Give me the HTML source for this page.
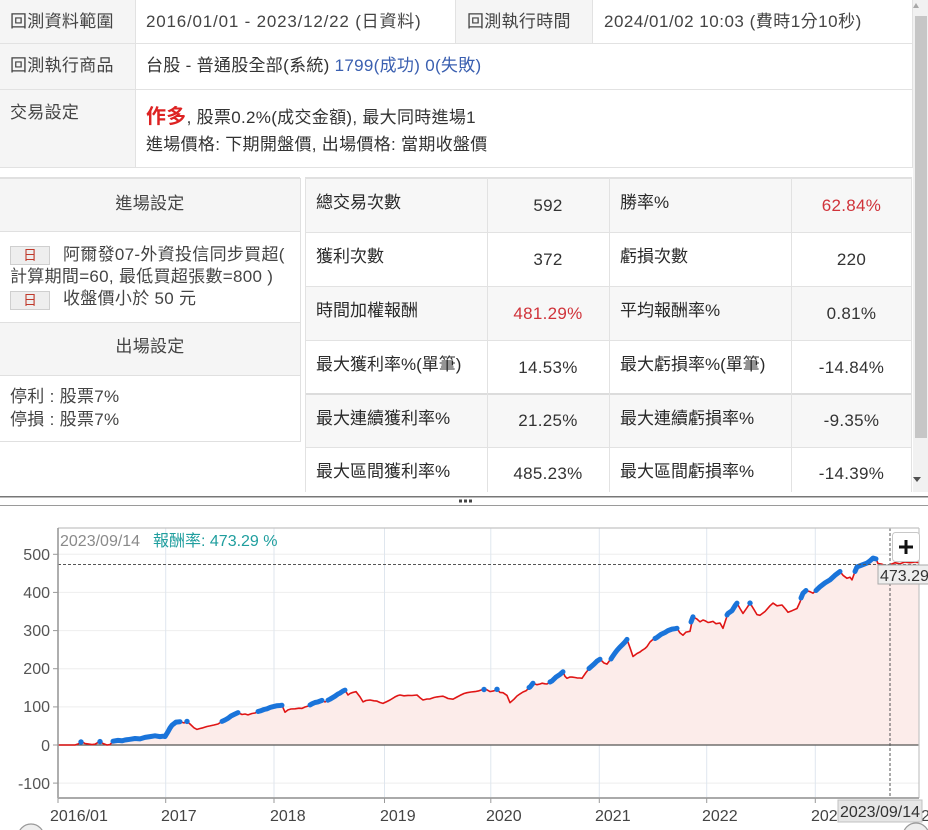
<!DOCTYPE html>
<html><head><meta charset="utf-8">
<style>
*{margin:0;padding:0;box-sizing:border-box}
body{width:928px;height:830px;overflow:hidden;background:#fff;position:relative;font-family:"Liberation Sans","Noto Sans CJK TC",sans-serif;color:#333}
.a{position:absolute;white-space:nowrap;font-size:17px;letter-spacing:0.3px}
.c{position:absolute}
.h{position:absolute;height:1px;background:#e2e2e2}
.v{position:absolute;width:1px;background:#e2e2e2}
.lab{color:#444}
.blue{color:#3a5fb0}
.box{position:absolute;width:40px;height:19px;background:#eeeeee;border:1px solid #cfcfcf;color:#c0392b;font-size:14px;line-height:17px;text-align:center}
.rl{position:absolute;left:316px;white-space:nowrap;font-size:17px;color:#2a2a2a;line-height:20px}
.rv{position:absolute;white-space:nowrap;font-size:17px;color:#333;text-align:center;line-height:20px;letter-spacing:0.3px}
.rv.red,.red{color:#d0333a}
</style></head><body>

<!-- TOP TABLE -->
<div class="c" style="left:0;top:0;width:135px;height:167px;background:#f5f5f5"></div>
<div class="c" style="left:455px;top:0;width:137px;height:43px;background:#f5f5f5"></div>
<div class="h" style="left:0;top:43px;width:913px"></div>
<div class="h" style="left:0;top:89px;width:913px"></div>
<div class="h" style="left:0;top:167px;width:913px"></div>
<div class="v" style="left:135px;top:0;height:167px"></div>
<div class="v" style="left:455px;top:0;height:43px"></div>
<div class="v" style="left:592px;top:0;height:43px"></div>
<div class="v" style="left:912px;top:0;height:167px"></div>

<div class="a lab" style="left:10px;top:0;line-height:43px">回測資料範圍</div>
<div class="a" style="left:146px;top:0;line-height:43px;color:#444;letter-spacing:0.8px">2016/01/01 - 2023/12/22 (日資料)</div>
<div class="a lab" style="left:467px;top:0;line-height:43px">回測執行時間</div>
<div class="a" style="left:604px;top:0;line-height:43px;color:#444;letter-spacing:0.5px">2024/01/02 10:03 (費時1分10秒)</div>

<div class="a lab" style="left:10px;top:43px;line-height:46px">回測執行商品</div>
<div class="a" style="left:146px;top:43px;line-height:46px;color:#333">台股 - 普通股全部(系統) <span class="blue">1799(成功) 0(失敗)</span></div>

<div class="a lab" style="left:10px;top:101px;line-height:24px">交易設定</div>
<div class="a" style="left:146px;top:104px;line-height:26px;color:#333"><span style="color:#dd2222;font-weight:bold;font-size:20px">作多</span>, 股票0.2%(成交金額), 最大同時進場1</div>
<div class="a" style="left:146px;top:133px;line-height:24px;color:#333">進場價格: 下期開盤價, 出場價格: 當期收盤價</div>

<!-- LEFT PANEL -->
<div class="c" style="left:0;top:178px;width:300px;height:53px;background:#f5f5f5"></div>
<div class="c" style="left:0;top:322px;width:300px;height:53px;background:#f5f5f5"></div>
<div class="c" style="left:0;top:177px;width:300px;height:2px;background:#e0e0e0"></div>
<div class="h" style="left:0;top:231px;width:300px;background:#e0e0e0"></div>
<div class="h" style="left:0;top:322px;width:300px;background:#e0e0e0"></div>
<div class="h" style="left:0;top:375px;width:300px;background:#e0e0e0"></div>
<div class="h" style="left:0;top:441px;width:300px;background:#e0e0e0"></div>
<div class="v" style="left:300px;top:178px;height:264px;background:#e0e0e0"></div>

<div class="a" style="left:0;width:300px;text-align:center;top:178px;line-height:52px;color:#444">進場設定</div>
<div class="box" style="left:10px;top:246px">日</div>
<div class="a" style="left:63px;top:244px;line-height:22px;color:#444">阿爾發07-外資投信同步買超(</div>
<div class="a" style="left:10px;top:266px;line-height:22px;color:#444">計算期間=60, 最低買超張數=800 )</div>
<div class="box" style="left:10px;top:291px">日</div>
<div class="a" style="left:63px;top:288px;line-height:22px;color:#444">收盤價小於 50 元</div>
<div class="a" style="left:0;width:300px;text-align:center;top:322px;line-height:50px;color:#444">出場設定</div>
<div class="a" style="left:10px;top:386px;line-height:22px;color:#444">停利 : 股票7%</div>
<div class="a" style="left:10px;top:409px;line-height:22px;color:#444">停損 : 股票7%</div>

<!-- RIGHT TABLE -->
<div class="c" style="left:305px;top:178px;width:607px;height:54px;background:#f7f7f7"></div>
<div class="c" style="left:305px;top:286px;width:607px;height:54px;background:#f7f7f7"></div>
<div class="c" style="left:305px;top:394px;width:607px;height:53px;background:#f7f7f7"></div>
<div class="c" style="left:305px;top:177px;width:607px;height:2px;background:#e0e0e0"></div>
<div class="h" style="left:305px;top:232px;width:607px"></div>
<div class="h" style="left:305px;top:286px;width:607px"></div>
<div class="h" style="left:305px;top:340px;width:607px"></div>
<div class="c" style="left:305px;top:393px;width:607px;height:2px;background:#dcdcdc"></div>
<div class="h" style="left:305px;top:447px;width:607px"></div>
<div class="v" style="left:305px;top:178px;height:314px"></div>
<div class="v" style="left:487px;top:178px;height:314px"></div>
<div class="v" style="left:609px;top:178px;height:314px"></div>
<div class="v" style="left:791px;top:178px;height:314px"></div>
<div class="v" style="left:911px;top:178px;height:314px"></div>

<div class="rl" style="top:193px">總交易次數</div>
<div class="rv" style="left:487px;width:122px;top:196px">592</div>
<div class="rl" style="left:620px;top:193px">勝率%</div>
<div class="rv red" style="left:791px;width:121px;top:196px">62.84%</div>

<div class="rl" style="top:247px">獲利次數</div>
<div class="rv" style="left:487px;width:122px;top:250px">372</div>
<div class="rl" style="left:620px;top:247px">虧損次數</div>
<div class="rv" style="left:791px;width:121px;top:250px">220</div>

<div class="rl" style="top:301px">時間加權報酬</div>
<div class="rv red" style="left:487px;width:122px;top:304px">481.29%</div>
<div class="rl" style="left:620px;top:301px">平均報酬率%</div>
<div class="rv" style="left:791px;width:121px;top:304px">0.81%</div>

<div class="rl" style="top:355px">最大獲利率%(單筆)</div>
<div class="rv" style="left:487px;width:122px;top:358px">14.53%</div>
<div class="rl" style="left:620px;top:355px">最大虧損率%(單筆)</div>
<div class="rv" style="left:791px;width:121px;top:358px">-14.84%</div>

<div class="rl" style="top:409px">最大連續獲利率%</div>
<div class="rv" style="left:487px;width:122px;top:411px">21.25%</div>
<div class="rl" style="left:620px;top:409px">最大連續虧損率%</div>
<div class="rv" style="left:791px;width:121px;top:411px">-9.35%</div>

<div class="rl" style="top:462px">最大區間獲利率%</div>
<div class="rv" style="left:487px;width:122px;top:464px">485.23%</div>
<div class="rl" style="left:620px;top:462px">最大區間虧損率%</div>
<div class="rv" style="left:791px;width:121px;top:464px">-14.39%</div>

<!-- SCROLLBAR -->
<div class="c" style="left:913px;top:0;width:15px;height:492px;background:#f1f1f1"></div>
<div class="c" style="left:915px;top:16px;width:12px;height:422px;background:#c6c6c6"></div>

<!-- SPLITTER + CHART -->
<svg class="c" style="left:0;top:0" width="928" height="830" viewBox="0 0 928 830" xmlns="http://www.w3.org/2000/svg">
  <polygon points="916,3 919,8 913,8" fill="#a8a8a8"/>
  <polygon points="917,482 921,477 913,477" fill="#505050"/>
  <rect x="0" y="496" width="928" height="1.5" fill="#777"/>
  <rect x="0" y="505" width="928" height="1" fill="#9a9a9a"/>
  <rect x="459" y="499.5" width="3" height="3" fill="#444"/>
  <rect x="464" y="499.5" width="3" height="3" fill="#444"/>
  <rect x="469" y="499.5" width="3" height="3" fill="#444"/>

  <!-- horizontal grid -->
  <g stroke="#eeeeee" stroke-width="1">
    <line x1="58" y1="554.3" x2="919" y2="554.3"/>
    <line x1="58" y1="592.4" x2="919" y2="592.4"/>
    <line x1="58" y1="630.6" x2="919" y2="630.6"/>
    <line x1="58" y1="668.7" x2="919" y2="668.7"/>
    <line x1="58" y1="706.9" x2="919" y2="706.9"/>
    <line x1="58" y1="783.1" x2="919" y2="783.1"/>
  </g>
  <!-- vertical grid -->
  <g stroke="#dfe6ee" stroke-width="1">
    <line x1="165.7" y1="528" x2="165.7" y2="798"/>
    <line x1="274" y1="528" x2="274" y2="798"/>
    <line x1="384.5" y1="528" x2="384.5" y2="798"/>
    <line x1="490.8" y1="528" x2="490.8" y2="798"/>
    <line x1="599.3" y1="528" x2="599.3" y2="798"/>
    <line x1="706.7" y1="528" x2="706.7" y2="798"/>
    <line x1="815.3" y1="528" x2="815.3" y2="798"/>
  </g>

  <!-- fill -->
  <polygon fill="#fcecea" points="58,745 75,745 78,744 80,742.7 82,741.9 85,743.5 88,743.9 92,744.6 95,744.2 98,742.5 100,741.6 103,743.5 107,745 110,744.6 113,741.2 118,740.4 122,740.8 125,740.0 130,739.3 135,738.5 140,738.9 145,737.4 150,736.6 155,735.8 160,736.6 163,736.2 165,736.6 168,731.7 170,728 172,725.2 176,722.1 180,721.7 184,722.9 187,721.4 190,724.0 194,727.8 197,729.4 200,728.5 203,727.8 207,726.5 210,725.9 214,725 218,724.0 222,721.4 225,720 228,718.3 231,716 234,714.5 238,712.6 242,714.5 245,714 248,714.9 252,713.5 255,713.0 258,711.5 261,710.7 264,709.5 267,708.8 270,707.5 272,706.9 275,706.2 277,705.7 280,705.5 282,705.3 285,712.2 288,709.9 291,709 295,708.8 299,708.2 302,708.4 305,707 308,706.1 312,703.8 315,702.5 318,701.9 322,700.4 325,701.9 328,700.2 330,699.2 335,696.2 338,694 340,693.1 343,691 345,690.1 348,695.0 350,693.5 352,692.7 356,691.6 360,696.9 363,701.9 366,700.5 370,700.0 374,700.8 377,701.1 380,702.5 383,703.4 387,701.5 390,700.0 395,696.9 398,695.5 400,695.0 404,695.8 408,695.4 412,695.5 417,695.0 420,697.7 423,700.0 427,699 430,698.9 434,697.5 437,696.9 440,696.5 443,696.2 446,697.5 448,698.5 453,699.2 457,697 460,695.4 464,693.5 467,692.7 471,692 475,691.6 479,690.8 482,689.7 486,689.3 490,691.6 494,690.8 497,689.3 500,692.4 503,692.7 507,695.4 510,702.7 514,699.2 517,696 520,693.9 523,692 526,690.8 530,687.0 533,683.2 537,684.7 540,684 542,683.2 545,683.8 547,684.0 550,682 552,680.9 556,677.1 560,674.4 563,671.8 565,676.3 567,678.3 570,677 572,677.1 575,677.5 577,677.9 580,678 582,678.3 586,672.5 590,667.6 594,664.1 597,661.1 600,659.2 604,663.0 607,664.1 610,660 612,657.3 615,653 617,650.4 620,647 622,645.1 625,642.0 627,639.4 630,647.7 633,656.5 637,653.5 640,652 642,650.4 645,648.5 647,646.6 650,642.0 653,639.4 657,637.4 661,634.4 665,632.5 668,630.6 672,629.1 675,628.7 677,628.3 680,632.9 683,635.2 686,632.1 690,631.3 693,616.8 697,619.1 700,621.8 703,620 705,620.7 708,622.5 710,622.2 713,621.4 716,623.7 720,623.0 723,628.3 726,619.1 728,613.4 732,610.7 735,605.8 737,603.1 740,608.5 743,613.4 747,607.7 750,603.1 754,609.6 757,614.6 760,615.3 765,611.5 770,605.8 773,603.1 777,605.8 782,605.0 786,609.6 788,612.3 792,610.7 797,608.5 800,602.0 803,593.2 806,590.5 810,591.7 813,593.2 816,590.5 820,586.7 825,582.9 830,579.9 835,575.3 840,571.5 843,575.3 847,578.3 850,577.2 852,579.9 855,571.5 857,566.9 862,565.0 867,563.1 870,560.8 873,558.1 876,558.9 878,563.5 882,564.2 886,565.7 890,564.6 895,562.7 900,563.8 905,561.9 910,562.7 915,561.9 919,562.7 919,745"/>

  <!-- zero line -->
  <line x1="58" y1="745" x2="919" y2="745" stroke="#555" stroke-width="1.2"/>

  <!-- red line -->
  <polyline fill="none" stroke="#e01515" stroke-width="1.6" stroke-linejoin="round" points="58,745 75,745 78,744 80,742.7 82,741.9 85,743.5 88,743.9 92,744.6 95,744.2 98,742.5 100,741.6 103,743.5 107,745 110,744.6 113,741.2 118,740.4 122,740.8 125,740.0 130,739.3 135,738.5 140,738.9 145,737.4 150,736.6 155,735.8 160,736.6 163,736.2 165,736.6 168,731.7 170,728 172,725.2 176,722.1 180,721.7 184,722.9 187,721.4 190,724.0 194,727.8 197,729.4 200,728.5 203,727.8 207,726.5 210,725.9 214,725 218,724.0 222,721.4 225,720 228,718.3 231,716 234,714.5 238,712.6 242,714.5 245,714 248,714.9 252,713.5 255,713.0 258,711.5 261,710.7 264,709.5 267,708.8 270,707.5 272,706.9 275,706.2 277,705.7 280,705.5 282,705.3 285,712.2 288,709.9 291,709 295,708.8 299,708.2 302,708.4 305,707 308,706.1 312,703.8 315,702.5 318,701.9 322,700.4 325,701.9 328,700.2 330,699.2 335,696.2 338,694 340,693.1 343,691 345,690.1 348,695.0 350,693.5 352,692.7 356,691.6 360,696.9 363,701.9 366,700.5 370,700.0 374,700.8 377,701.1 380,702.5 383,703.4 387,701.5 390,700.0 395,696.9 398,695.5 400,695.0 404,695.8 408,695.4 412,695.5 417,695.0 420,697.7 423,700.0 427,699 430,698.9 434,697.5 437,696.9 440,696.5 443,696.2 446,697.5 448,698.5 453,699.2 457,697 460,695.4 464,693.5 467,692.7 471,692 475,691.6 479,690.8 482,689.7 486,689.3 490,691.6 494,690.8 497,689.3 500,692.4 503,692.7 507,695.4 510,702.7 514,699.2 517,696 520,693.9 523,692 526,690.8 530,687.0 533,683.2 537,684.7 540,684 542,683.2 545,683.8 547,684.0 550,682 552,680.9 556,677.1 560,674.4 563,671.8 565,676.3 567,678.3 570,677 572,677.1 575,677.5 577,677.9 580,678 582,678.3 586,672.5 590,667.6 594,664.1 597,661.1 600,659.2 604,663.0 607,664.1 610,660 612,657.3 615,653 617,650.4 620,647 622,645.1 625,642.0 627,639.4 630,647.7 633,656.5 637,653.5 640,652 642,650.4 645,648.5 647,646.6 650,642.0 653,639.4 657,637.4 661,634.4 665,632.5 668,630.6 672,629.1 675,628.7 677,628.3 680,632.9 683,635.2 686,632.1 690,631.3 693,616.8 697,619.1 700,621.8 703,620 705,620.7 708,622.5 710,622.2 713,621.4 716,623.7 720,623.0 723,628.3 726,619.1 728,613.4 732,610.7 735,605.8 737,603.1 740,608.5 743,613.4 747,607.7 750,603.1 754,609.6 757,614.6 760,615.3 765,611.5 770,605.8 773,603.1 777,605.8 782,605.0 786,609.6 788,612.3 792,610.7 797,608.5 800,602.0 803,593.2 806,590.5 810,591.7 813,593.2 816,590.5 820,586.7 825,582.9 830,579.9 835,575.3 840,571.5 843,575.3 847,578.3 850,577.2 852,579.9 855,571.5 857,566.9 862,565.0 867,563.1 870,560.8 873,558.1 876,558.9 878,563.5 882,564.2 886,565.7 890,564.6 895,562.7 900,563.8 905,561.9 910,562.7 915,561.9 919,562.7"/>

  <!-- blue new-high segments -->
  <g fill="none" stroke="#1a74da" stroke-width="5" stroke-linecap="round" stroke-linejoin="round">
    <polyline points="113,741.2 118,740.4 122,740.8 125,740.0 130,739.3 135,738.5 140,738.9 145,737.4 150,736.6 155,735.8 160,736.6 163,736.2 165,736.6 168,731.7 170,728 172,725.2 176,722.1 180,721.7"/>
    <polyline points="222,721.4 225,720 228,718.3 231,716 234,714.5 238,712.6"/>
    <polyline points="258,711.5 261,710.7 264,709.5 267,708.8 270,707.5 272,706.9 275,706.2 277,705.7 280,705.5 282,705.3"/>
    <polyline points="310,705 312,703.8 315,702.5 318,701.9 322,700.4"/>
    <polyline points="328,700.2 330,699.2 335,696.2 338,694 340,693.1 343,691 345,690.1"/>
    <polyline points="529,687.5 530,687.0 533,683.2"/>
    <polyline points="550,682 552,680.9 556,677.1 560,674.4 563,671.8"/>
    <polyline points="589,668.5 590,667.6 594,664.1 597,661.1 600,659.2"/>
    <polyline points="611,659 612,657.3 615,653 617,650.4 620,647 622,645.1 625,642.0 627,639.4"/>
    <polyline points="655,638.5 657,637.4 661,634.4 665,632.5 668,630.6 672,629.1 675,628.7 677,628.3"/>
    <polyline points="691,622 693,616.8"/>
    <polyline points="727,615 728,613.4 732,610.7 735,605.8 737,603.1"/>
    <polyline points="801,598 803,593.2 806,590.5"/>
    <polyline points="816,590.5 820,586.7 825,582.9 830,579.9 835,575.3 840,571.5"/>
    <polyline points="855,571.5 857,566.9 862,565.0 867,563.1 870,560.8 873,558.1 876,558.9"/>
  </g>
  <g fill="#1a74da">
    <circle cx="81" cy="742" r="2.7"/>
    <circle cx="100" cy="741.6" r="2.7"/>
    <circle cx="187" cy="721.4" r="2.7"/>
    <circle cx="484" cy="689.5" r="2.7"/>
    <circle cx="497" cy="689.3" r="2.7"/>
    <circle cx="750" cy="603.1" r="2.7"/>
  </g>

  <!-- crosshair -->
  <line x1="58" y1="564.5" x2="919" y2="564.5" stroke="#555" stroke-width="1" stroke-dasharray="3,2"/>
  <line x1="890" y1="528" x2="890" y2="798" stroke="#555" stroke-width="1" stroke-dasharray="3,2"/>

  <!-- plot border -->
  <line x1="58" y1="528" x2="919" y2="528" stroke="#c4c4c4" stroke-width="1.2"/>
  <line x1="58" y1="528" x2="58" y2="798" stroke="#999" stroke-width="1.6"/>
  <line x1="919" y1="528" x2="919" y2="798" stroke="#c4c4c4" stroke-width="1.2"/>
  <line x1="58" y1="798" x2="919" y2="798" stroke="#aaa" stroke-width="2"/>

  <!-- ticks -->
  <g stroke="#999" stroke-width="1">
    <line x1="58" y1="798" x2="58" y2="803"/>
    <line x1="165.7" y1="798" x2="165.7" y2="803"/>
    <line x1="274" y1="798" x2="274" y2="803"/>
    <line x1="384.5" y1="798" x2="384.5" y2="803"/>
    <line x1="490.8" y1="798" x2="490.8" y2="803"/>
    <line x1="599.3" y1="798" x2="599.3" y2="803"/>
    <line x1="706.7" y1="798" x2="706.7" y2="803"/>
    <line x1="815.3" y1="798" x2="815.3" y2="803"/>
    <line x1="53" y1="554.3" x2="58" y2="554.3"/>
    <line x1="53" y1="592.4" x2="58" y2="592.4"/>
    <line x1="53" y1="630.6" x2="58" y2="630.6"/>
    <line x1="53" y1="668.7" x2="58" y2="668.7"/>
    <line x1="53" y1="706.9" x2="58" y2="706.9"/>
    <line x1="53" y1="745" x2="58" y2="745"/>
    <line x1="53" y1="783.1" x2="58" y2="783.1"/>
  </g>

  <!-- y labels -->
  <g font-family="Liberation Sans, sans-serif" font-size="16" fill="#555" text-anchor="end">
    <text x="50" y="560">500</text>
    <text x="50" y="598">400</text>
    <text x="50" y="636">300</text>
    <text x="50" y="674">200</text>
    <text x="50" y="712">100</text>
    <text x="50" y="751">0</text>
    <text x="50" y="789">-100</text>
  </g>
  <!-- x labels -->
  <g font-family="Liberation Sans, sans-serif" font-size="16" fill="#444">
    <text x="50" y="821">2016/01</text>
    <text x="161" y="821">2017</text>
    <text x="270" y="821">2018</text>
    <text x="380" y="821">2019</text>
    <text x="486" y="821">2020</text>
    <text x="595" y="821">2021</text>
    <text x="702" y="821">2022</text>
    <text x="811" y="821">2023</text>
    <text x="872" y="821">2023/12</text>
  </g>

  <!-- header -->
  <text x="60" y="546" font-family="Liberation Sans, sans-serif" font-size="16" fill="#8a8a8a">2023/09/14</text>
  <text x="153" y="546" font-family="Liberation Sans, Noto Sans CJK TC, sans-serif" font-size="16" fill="#1f9e9e">報酬率: 473.29 %</text>

  <!-- + button -->
  <rect x="892.5" y="532.5" width="27" height="29" rx="3" fill="#fff" stroke="#c8c8c8"/>
  <rect x="899" y="545.5" width="14" height="3" fill="#111"/>
  <rect x="904.5" y="540" width="3" height="14" fill="#111"/>

  <!-- value label -->
  <rect x="878" y="565" width="60" height="19" fill="#eeeeee" stroke="#aaa"/>
  <text x="880" y="581" font-family="Liberation Sans, sans-serif" font-size="16" fill="#333">473.29</text>

  <!-- date label -->
  <rect x="838" y="800" width="84" height="22" fill="#e6e6e6" stroke="#c0c0c0"/>
  <text x="880" y="817" text-anchor="middle" font-family="Liberation Sans, sans-serif" font-size="16" fill="#333">2023/09/14</text>

  <!-- bottom circles -->
  <circle cx="31" cy="837" r="13" fill="#eeeeee" stroke="#999" stroke-width="1.2"/>
  <circle cx="916" cy="836" r="13" fill="#eeeeee" stroke="#999" stroke-width="1.2"/>
</svg>
</body></html>
